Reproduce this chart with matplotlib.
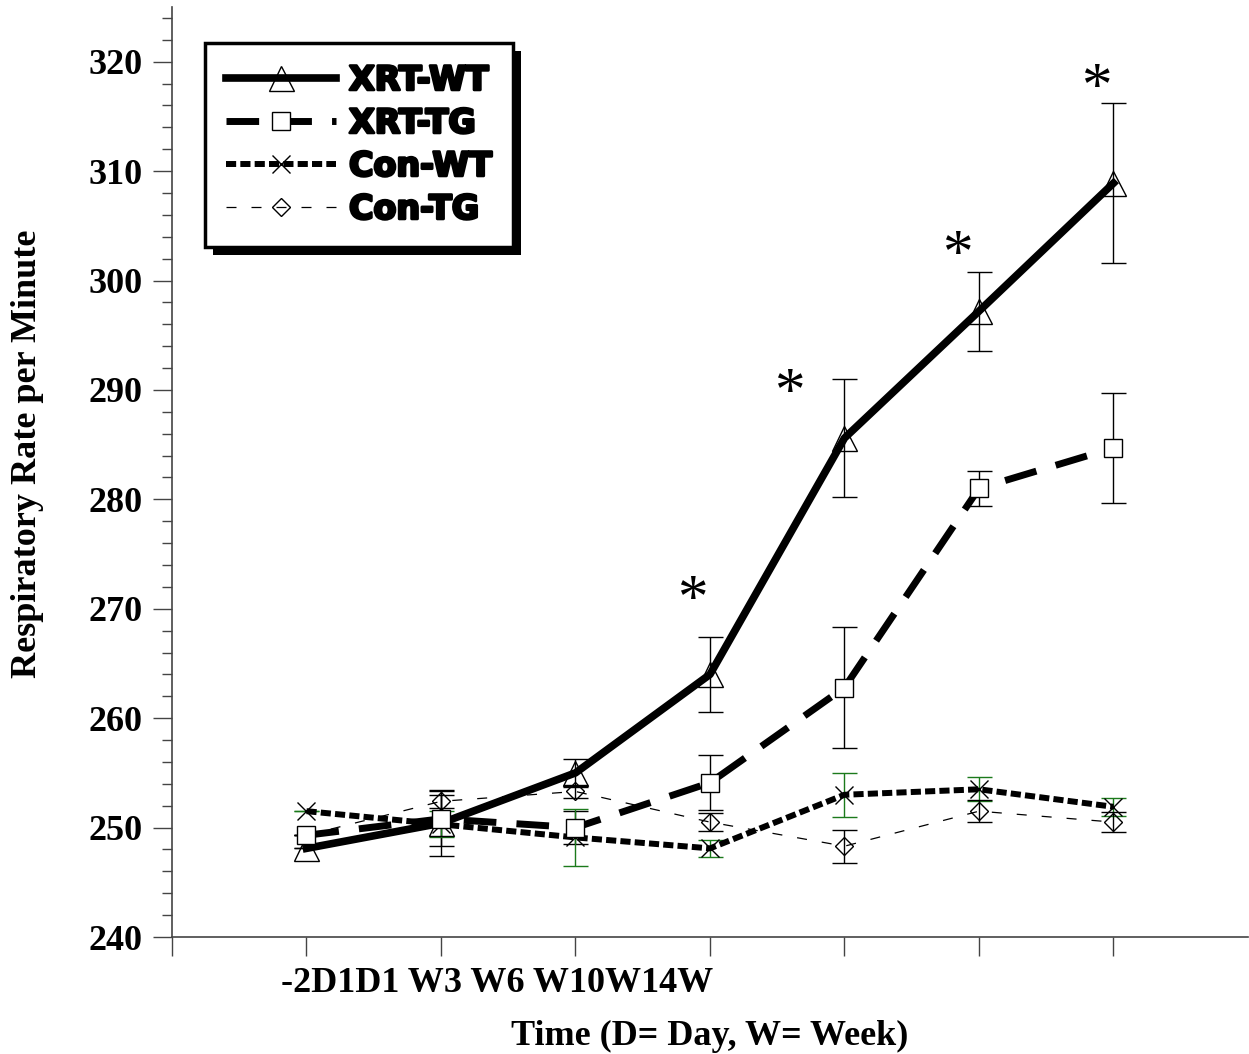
import matplotlib
matplotlib.use("Agg")
import matplotlib.pyplot as plt
import matplotlib.transforms as mtransforms
import matplotlib.patheffects as pe
from matplotlib.patches import Rectangle

# time points (positions on the x axis)
time_pos = [1, 2, 3, 4, 5, 6, 7]
time_text = "-2D1D1 W3 W6 W10W14W"

xrt_wt = [248.1, 250.4, 255.0, 264.0, 285.6, 297.2, 308.9]
xrt_wt_err = [0, 3.0, 1.3, 3.4, 5.4, 3.6, 7.3]

xrt_tg = [249.3, 250.8, 250.0, 254.1, 262.8, 281.0, 284.7]
xrt_tg_err = [0, 2.5, 1.5, 2.5, 5.5, 1.6, 5.0]

con_wt = [251.5, 250.3, 249.1, 248.1, 253.0, 253.5, 251.9]
con_wt_err = [0, 1.2, 2.6, 0.8, 2.0, 1.1, 0.8]

con_tg = [249.3, 252.4, 253.3, 250.5, 248.3, 251.5, 250.5]
con_tg_err = [0, 0.6, 0.6, 0.8, 1.5, 1.0, 0.9]

# significance marks (x, y of the star centre)
star_x = [3.87, 4.59, 5.84, 6.87]
star_y = [271.7, 290.7, 303.3, 318.5]

serif = "Liberation Serif"
fs = 26

fig = plt.figure(figsize=(12.49, 10.54), dpi=100)
ax = fig.add_axes([0.1377, 0.111, 0.8615, 0.8824])

# error bars first so the lines sit on top
ax.errorbar(time_pos, xrt_wt, yerr=xrt_wt_err, fmt="none", ecolor="black",
            elinewidth=1.0, capsize=9, capthick=1.0, zorder=2)
ax.errorbar(time_pos, xrt_tg, yerr=xrt_tg_err, fmt="none", ecolor="black",
            elinewidth=1.0, capsize=9, capthick=1.0, zorder=2)
ax.errorbar(time_pos, con_wt, yerr=con_wt_err, fmt="none", ecolor="#1b7a1b",
            elinewidth=1.0, capsize=9, capthick=1.0, zorder=2)
ax.errorbar(time_pos, con_tg, yerr=con_tg_err, fmt="none", ecolor="black",
            elinewidth=1.0, capsize=9, capthick=1.0, zorder=2)

ax.plot(time_pos, xrt_wt, color="black", lw=5.5, ls="-",
        marker="^", ms=18, mfc="none", mec="black", mew=1.0,
        label="XRT-WT", zorder=4)
ax.plot(time_pos, xrt_tg, color="black", lw=5.0, ls=(0, (4.7, 2.9)),
        dash_capstyle="butt", marker="s", ms=13.5, mfc="white", mec="black",
        mew=1.0, label="XRT-TG", zorder=4)
ax.plot(time_pos, con_wt, color="black", lw=4.3, ls=(0, (1.7, 0.7)),
        dash_capstyle="butt", marker="x", ms=13.5, mec="black", mew=1.0,
        label="Con-WT", zorder=3)
ax.plot(time_pos, con_tg, color="black", lw=0.9, ls=(0, (8, 12)),
        marker="D", ms=9.5, mfc="none", mec="black", mew=1.0,
        label="Con-TG", zorder=3)

for sx, sy in zip(star_x, star_y):
    ax.text(sx, sy - 2.4, "*", fontsize=44, family=serif, ha="center",
            va="baseline", zorder=5)

ax.set_xlim(0, 8)
ax.set_ylim(240, 325)
ax.set_xticks(range(0, 8))
ax.set_xticklabels([])
ax.set_yticks(range(240, 321, 10))
ax.set_yticks(range(242, 325, 2), minor=True)
ax.tick_params(axis="both", which="major", direction="out", length=14,
               width=1.0, color="#444444", pad=7)
ax.tick_params(axis="y", which="minor", direction="out", length=7,
               width=1.0, color="#444444")
for lab in ax.get_yticklabels():
    lab.set_fontfamily(serif)
    lab.set_fontweight("bold")
    lab.set_fontsize(fs)

for side in ["top", "right"]:
    ax.spines[side].set_visible(False)
for side in ["left", "bottom"]:
    ax.spines[side].set_color("#444444")
    ax.spines[side].set_linewidth(1.2)

# crammed time labels under the first ticks
blend = mtransforms.blended_transform_factory(ax.transData, ax.transAxes)
ax.text(2.42, -0.059, time_text, transform=blend, ha="center", va="baseline",
        fontsize=fs, family=serif, fontweight="bold")

ax.set_xlabel("Time (D= Day, W= Week)", fontsize=fs, family=serif,
              fontweight="bold", va="baseline")
ax.xaxis.set_label_coords(0.5, -0.116)
ax.set_ylabel("Respiratory Rate per Minute", fontsize=fs, family=serif,
              fontweight="bold", va="center")
ax.yaxis.set_label_coords(-0.134, 0.52)

leg = ax.legend(loc="upper left", bbox_to_anchor=(0.0307, 0.961),
                borderaxespad=0, fancybox=False, framealpha=1,
                edgecolor="black", handlelength=3.3, handletextpad=0.4,
                labelspacing=0.3, borderpad=0.62, numpoints=1,
                prop={"family": "DejaVu Sans", "weight": "bold", "size": 24})
leg.get_frame().set_linewidth(2.5)
leg.set_zorder(10)
for t in leg.get_texts():
    t.set_path_effects([pe.withStroke(linewidth=2.0, foreground="black")])

# solid black drop shadow behind the legend box
fig.canvas.draw()
bb = leg.get_window_extent()
shadow = Rectangle((bb.x0 + 8, bb.y0 - 8), bb.width, bb.height,
                   transform=mtransforms.IdentityTransform(),
                   facecolor="black", edgecolor="none", zorder=9, clip_on=False)
ax.add_patch(shadow)

fig.savefig("out.png", dpi=100)
